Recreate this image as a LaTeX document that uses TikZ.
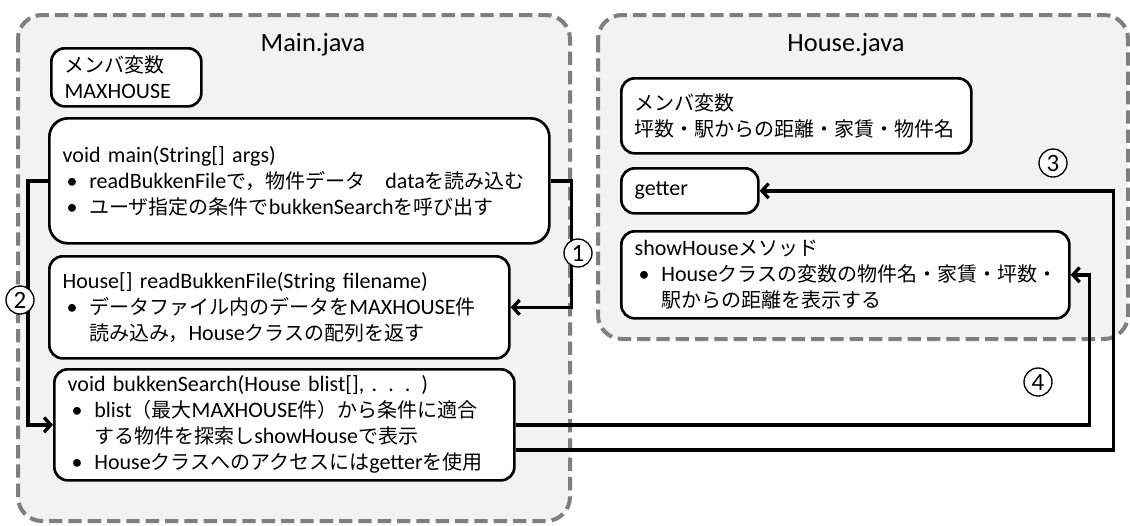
\documentclass[tikz,border=0pt]{standalone}
\usepackage{fontspec}
\setmainfont{Carlito}[Scale=1.1]
\newfontfamily\jpfont{Noto Sans CJK JP}
\newcommand{\jp}[1]{{\jpfont #1}}
\newcommand{\bul}{\makebox[20pt][l]{\hspace{3pt}\textbullet}}
\newcommand{\cont}{\hspace*{20pt}}
\usetikzlibrary{arrows.meta}
\definecolor{filegray}{HTML}{F2F2F2}
\definecolor{dashgray}{HTML}{7F7F7F}

\begin{document}
\begin{tikzpicture}[x=0.75pt, y=-0.75pt,
  every node/.style={font=\fontsize{15}{19.5}\selectfont},
  filebox/.style={draw=dashgray, fill=filegray, line width=3pt, dash pattern=on 10pt off 4.5pt, rounded corners=18pt},
  fnbox/.style={draw, fill=white, line width=2pt, rounded corners=10pt, anchor=north west, align=left, inner xsep=10pt},
  num/.style={draw, circle, fill=white, line width=1pt, minimum size=21pt, inner sep=0pt, font=\fontsize{17}{20}\selectfont},
  conn/.style={line width=2.5pt, -{Straight Barb[length=5pt,width=11pt]}}]

\useasboundingbox (0,0) rectangle (1130,525);
\fill[white] (0,0) rectangle (1130,525);

% Main.java (left file)
\draw[filebox] (18,15) rectangle (570,521);
\node[font=\fontsize{18}{22}\selectfont] (mainjava) at (313,45) {Main.java};

% House.java (right file)
\draw[filebox] (598,15) rectangle (1128,339);
\node[font=\fontsize{18}{22}\selectfont] (housejava) at (846,45) {House.java};

% Main.java contents
\node[fnbox, text width=92.5pt, minimum height=43.5pt] (memmain) at (50,47) {\jp{メンバ変数}\\MAXHOUSE};
\node[fnbox, text width=355pt, minimum height=93.75pt, rounded corners=14pt] (mainfn) at (48,117)
  {void main(String[] args)\\ \bul readBukkenFile\jp{で，物件データ　}data\jp{を読み込む}\\ \bul\jp{ユーザ指定の条件で}bukkenSearch\jp{を呼び出す}};
\node[fnbox, text width=325pt, minimum height=76.5pt] (readfile) at (48,255)
  {House[] readBukkenFile(String filename)\\ \bul\jp{データファイル内のデータを}MAXHOUSE\jp{件}\\ \cont\jp{読み込み，}House\jp{クラスの配列を返す}};
\node[fnbox, text width=325pt, minimum height=83.25pt] (search) at (53,368)
  {void bukkenSearch(House blist[], . . . )\\ \bul blist\jp{（最大}MAXHOUSE\jp{件）から条件に適合}\\ \cont\jp{する物件を探索し}showHouse\jp{で表示}\\ \bul House\jp{クラスへのアクセスには}getter\jp{を使用}};

% House.java contents
\node[fnbox, text width=242.5pt, minimum height=56.25pt] (memhouse) at (620,77) {\jp{メンバ変数}\\ \jp{坪数・駅からの距離・家賃・物件名}};
\node[fnbox, text width=82.75pt, minimum height=33.75pt] (getter) at (620,167) {getter};
\node[fnbox, text width=316pt, minimum height=65.25pt] (show) at (620,230)
  {showHouse\jp{メソッド}\\ \bul House\jp{クラスの変数の物件名・家賃・坪数・}\\ \cont\jp{駅からの距離を表示する}};

% calls
\draw[conn] (mainfn.east) -- ++(21,0) |- (readfile.east);
\draw[conn] (mainfn.west) -- ++(-20,0) |- (search.west);
\draw[conn] (search.east) -- ++(574,0) |- (show.east);
\draw[conn] ([yshift=-18.75pt]search.east) -- ++(598,0) |- (getter.east);

% order of calls
\node[num] (n1) at (578,253) {1};
\node[num] (n2) at (20,300) {2};
\node[num] (n3) at (1053,163) {3};
\node[num] (n4) at (1038,382) {4};

\end{tikzpicture}
\end{document}
